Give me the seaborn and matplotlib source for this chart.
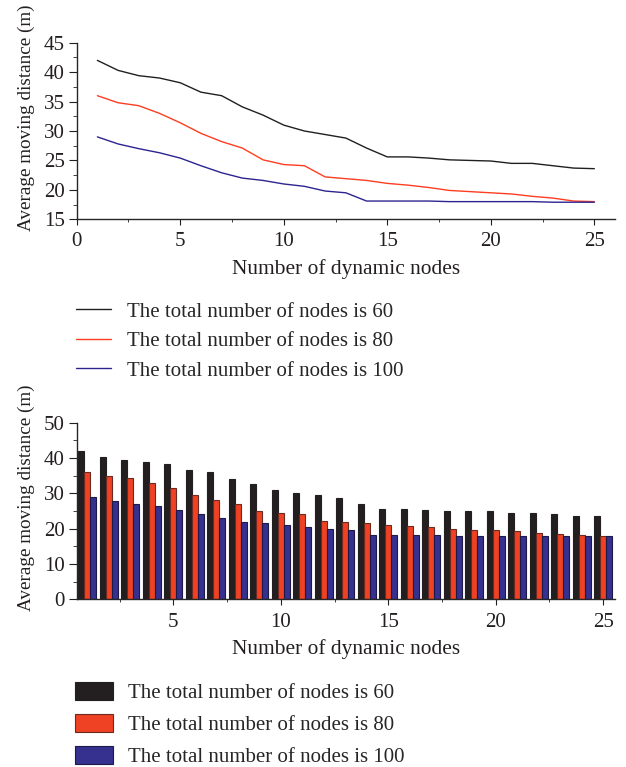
import numpy as np
import pandas as pd
import matplotlib
matplotlib.use("Agg")
import matplotlib.pyplot as plt
import seaborn as sns
from matplotlib.ticker import MultipleLocator
from matplotlib.lines import Line2D
from matplotlib.patches import Patch

nodes = list(range(1, 26))
series_labels = ["The total number of nodes is 60",
                 "The total number of nodes is 80",
                 "The total number of nodes is 100"]
d60 = [42.0, 40.3, 39.4, 39.0, 38.2, 36.6, 36.0, 34.1, 32.7, 31.0, 30.0, 29.4, 28.8,
       27.1, 25.6, 25.6, 25.4, 25.1, 25.0, 24.9, 24.5, 24.5, 24.1, 23.7, 23.6]
d80 = [36.0, 34.8, 34.3, 33.0, 31.4, 29.6, 28.2, 27.1, 25.1, 24.3, 24.1, 22.2, 21.9,
       21.6, 21.1, 20.8, 20.4, 19.9, 19.7, 19.5, 19.3, 18.9, 18.6, 18.1, 18.0]
d100 = [29.0, 27.8, 27.0, 26.3, 25.4, 24.1, 22.9, 22.0, 21.6, 21.0, 20.6, 19.8, 19.5,
        18.1, 18.1, 18.1, 18.1, 18.0, 18.0, 18.0, 18.0, 18.0, 17.9, 17.9, 17.9]

line_colors = ["#231f20", "#ff3d20", "#2b2490"]
bar_colors = ["#231f20", "#ef4123", "#36308f"]
bar_edges = ["#231f20", "#6b2a22", "#1d1a4a"]

df = pd.DataFrame({
    "x": nodes * 3,
    "y": d60 + d80 + d100,
    "series": [series_labels[0]] * 25 + [series_labels[1]] * 25 + [series_labels[2]] * 25,
})

sns.set_style("ticks")
plt.rcParams["font.family"] = ["Liberation Serif", "DejaVu Serif"]
plt.rcParams["axes.linewidth"] = 1.0
plt.rcParams["xtick.major.size"] = 4.5
plt.rcParams["ytick.major.size"] = 5.5
plt.rcParams["xtick.minor.size"] = 2.5
plt.rcParams["ytick.minor.size"] = 3
plt.rcParams["xtick.major.pad"] = 5
plt.rcParams["ytick.major.pad"] = 3
plt.rcParams["xtick.color"] = "#231f20"
plt.rcParams["ytick.color"] = "#231f20"

FS = 15
XL = 15.4
YL = 13.8
fig = plt.figure(figsize=(6.26, 7.67), dpi=100)


def style_axis(ax, ylab_frac):
    ax.set_xlabel("Number of dynamic nodes", fontsize=XL, color="#231f20", labelpad=5.5)
    ax.set_ylabel("Average moving distance (m)", fontsize=YL, color="#231f20")
    ax.yaxis.set_label_coords(-0.0776, ylab_frac)
    ax.tick_params(labelsize=FS, labelcolor="#231f20")
    sns.despine(ax=ax)


# Top line chart
ax1 = fig.add_axes([0.1225, 0.7141, 0.86, 0.2302])
sns.lineplot(data=df, x="x", y="y", hue="series", palette=line_colors,
             linewidth=1.0, ax=ax1, legend=False)
ax1.set_xlim(0, 26)
ax1.set_ylim(15, 45)
ax1.xaxis.set_major_locator(MultipleLocator(5))
ax1.xaxis.set_minor_locator(MultipleLocator(2.5))
ax1.yaxis.set_major_locator(MultipleLocator(5))
ax1.yaxis.set_minor_locator(MultipleLocator(2.5))
style_axis(ax1, 0.574)

handles1 = [Line2D([0], [0], color=c, lw=1.0) for c in line_colors]
fig.legend(handles1, series_labels, loc="upper left",
           bbox_to_anchor=(0.121, 0.606), frameon=False, fontsize=FS,
           handlelength=1.7, handletextpad=0.75, labelspacing=0.47,
           borderaxespad=0, borderpad=0)

# Bottom bar chart
ax2 = fig.add_axes([0.1225, 0.2186, 0.86, 0.2303])
sns.barplot(data=df, x="x", y="y", hue="series", palette=bar_colors,
            native_scale=True, width=0.84, ax=ax2, legend=False,
            linewidth=0.8, saturation=1)
for cont, ec in zip(ax2.containers, bar_edges):
    for p in cont:
        p.set_edgecolor(ec)
ax2.set_xlim(0.5, 25.55)
ax2.set_ylim(0, 50)
ax2.xaxis.set_major_locator(MultipleLocator(5))
ax2.xaxis.set_minor_locator(MultipleLocator(2.5))
ax2.yaxis.set_major_locator(MultipleLocator(10))
ax2.yaxis.set_minor_locator(MultipleLocator(5))
style_axis(ax2, 0.576)

handles2 = [Patch(facecolor=c, edgecolor=e, lw=0.8) for c, e in zip(bar_colors, bar_edges)]
fig.legend(handles2, series_labels, loc="upper left",
           bbox_to_anchor=(0.12, 0.111), frameon=False, fontsize=FS,
           handlelength=1.8, handleheight=0.95, handletextpad=0.75, labelspacing=0.52,
           borderaxespad=0, borderpad=0)

fig.savefig("out.png", dpi=100)
